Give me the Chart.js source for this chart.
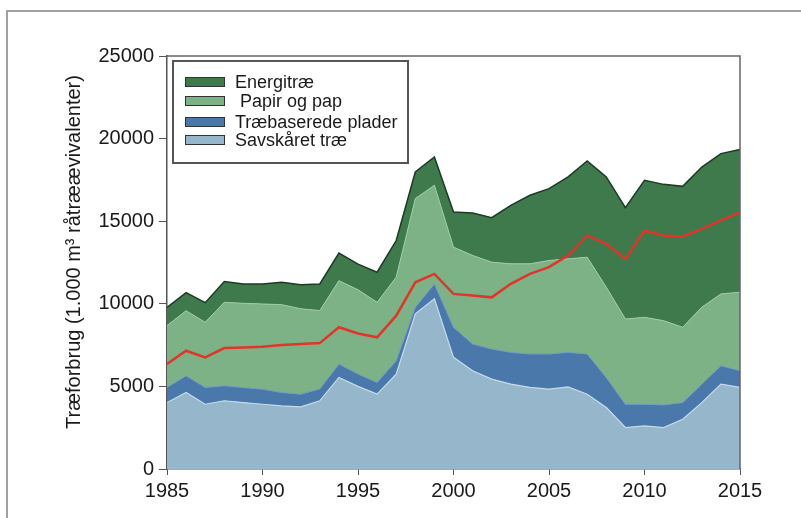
<!DOCTYPE html>
<html>
<head>
<meta charset="utf-8">
<script src="https://cdn.jsdelivr.net/npm/chart.js@4/dist/chart.umd.min.js"></script>
<style>
  html, body { margin: 0; padding: 0; background: #fff; }
  #wrap { position: relative; width: 801px; height: 518px; }
  #frame { position: absolute; left: 6px; top: 10px; right: 0; bottom: 0;
           border-left: 2px solid #a0a0a0; border-top: 2px solid #a0a0a0; }
  canvas { position: absolute; left: 0; top: 0; }
</style>
</head>
<body>
<div id="wrap">
  <div id="frame"></div>
  <canvas id="chart" width="801" height="518"></canvas>
</div>
<script>
// Årstal
const years = [1985, 1986, 1987, 1988, 1989, 1990, 1991, 1992, 1993, 1994,
               1995, 1996, 1997, 1998, 1999, 2000, 2001, 2002, 2003, 2004,
               2005, 2006, 2007, 2008, 2009, 2010, 2011, 2012, 2013, 2014, 2015];

// Serier (stablet, 1.000 m3)
const savskaaret = [4020, 4630, 3920, 4130, 4020, 3920, 3820, 3760, 4130, 5540,
                    5000, 4530, 5740, 9390, 10300, 6760, 5950, 5440, 5140, 4940,
                    4830, 4970, 4530, 3720, 2510, 2610, 2510, 3010, 4020, 5140, 4940];
const plader = [920, 1010, 1020, 910, 910, 910, 810, 770, 720, 810,
                750, 710, 810, 400, 900, 1820, 1620, 1820, 1920, 2020,
                2130, 2090, 2430, 1820, 1410, 1310, 1370, 1010, 1120, 1110, 1010];
const papir = [3740, 3940, 3940, 5050, 5100, 5160, 5320, 5170, 4740, 5050,
               5100, 4850, 5060, 6580, 5970, 4850, 5360, 5260, 5360, 5460,
               5660, 5660, 5860, 5460, 5160, 5260, 5100, 4560, 4650, 4350, 4750];
const energi = [1100, 1100, 1190, 1260, 1170, 1210, 1350, 1450, 1610, 1670,
                1550, 1820, 2220, 1610, 1720, 2120, 2560, 2690, 3540, 4150,
                4350, 4960, 5830, 6680, 6740, 8300, 8250, 8530, 8490, 8490, 8640];
// Rød linje (ikke stablet)
const roedLinje = [6350, 7160, 6750, 7320, 7360, 7400, 7500, 7560, 7620, 8580,
                   8200, 7970, 9280, 11300, 11810, 10600, 10500, 10390, 11210, 11810,
                   12220, 12930, 14140, 13630, 12720, 14440, 14140, 14080, 14540, 15050, 15550];

const yTicks = [0, 5000, 10000, 15000, 20000, 25000];
const xTicks = [1985, 1990, 1995, 2000, 2005, 2010, 2015];

const FONT = '"Liberation Sans", Arial, sans-serif';

function punkter(values) {
    return years.map((y, i) => ({ x: y, y: values[i] }));
}

// Legende inde i plotområdet
const legendItems = [
    { label: "Energitræ", color: "#3e7a4c" },
    { label: " Papir og pap", color: "#7db286" },
    { label: "Træbaserede plader", color: "#4a78aa" },
    { label: "Savskåret træ", color: "#96b6cc" }
];

const boxPlugin = {
    id: "boxPlugin",
    afterDraw(chart) {
        const ctx = chart.ctx;
        const a = chart.chartArea;
        ctx.save();
        // ramme om plotområdet (top og højre)
        ctx.strokeStyle = "#666";
        ctx.lineWidth = 1.5;
        ctx.beginPath();
        ctx.moveTo(a.left, a.top);
        ctx.lineTo(a.right, a.top);
        ctx.lineTo(a.right, a.bottom);
        ctx.stroke();

        // legende
        ctx.fillStyle = "#fff";
        ctx.fillRect(173, 61, 235, 102);
        ctx.strokeStyle = "#555";
        ctx.lineWidth = 2;
        ctx.strokeRect(173, 61, 235, 102);
        const rows = [82, 101, 122, 140];
        ctx.font = "18px " + FONT;
        ctx.textBaseline = "middle";
        legendItems.forEach((item, i) => {
            ctx.fillStyle = item.color;
            ctx.fillRect(185, rows[i] - 5, 40, 10);
            ctx.strokeStyle = "#333";
            ctx.lineWidth = 1;
            ctx.strokeRect(185.5, rows[i] - 4.5, 39, 9);
            ctx.fillStyle = "#1a1a1a";
            ctx.fillText(item.label, 235, rows[i] + 1);
        });

        // y-aksens titel
        ctx.translate(74, 252);
        ctx.rotate(-Math.PI / 2);
        ctx.textAlign = "center";
        ctx.font = "20px " + FONT;
        ctx.fillStyle = "#1a1a1a";
        ctx.fillText("Træforbrug (1.000 m³ råtræævivalenter)", 0, 0);
        ctx.restore();
    }
};

new Chart(document.getElementById("chart"), {
    type: "line",
    data: {
        datasets: [
            {
                label: "Rød linje",
                data: punkter(roedLinje),
                stack: "linje",
                order: -1,
                borderColor: "#e0352b",
                borderWidth: 2.5,
                fill: false,
                pointRadius: 0,
                tension: 0
            },
            {
                label: "Savskåret træ",
                data: punkter(savskaaret),
                stack: "areal",
                backgroundColor: "#96b6cc",
                borderColor: "#c4dae8",
                borderWidth: 1.2,
                fill: "origin",
                pointRadius: 0,
                tension: 0
            },
            {
                label: "Træbaserede plader",
                data: punkter(plader),
                stack: "areal",
                backgroundColor: "#4a78aa",
                borderColor: "#6f9bc4",
                borderWidth: 1,
                fill: "-1",
                pointRadius: 0,
                tension: 0
            },
            {
                label: " Papir og pap",
                data: punkter(papir),
                stack: "areal",
                backgroundColor: "#7db286",
                borderColor: "#9ccaa4",
                borderWidth: 1,
                fill: "-1",
                pointRadius: 0,
                tension: 0
            },
            {
                label: "Energitræ",
                data: punkter(energi),
                stack: "areal",
                backgroundColor: "#3e7a4c",
                borderColor: "#1e3a24",
                borderWidth: 1.5,
                fill: "-1",
                pointRadius: 0,
                tension: 0
            }
        ]
    },
    options: {
        responsive: false,
        animation: false,
        layout: { padding: { left: 0, top: 56, right: 61, bottom: 0 } },
        plugins: {
            legend: { display: false },
            tooltip: { enabled: false }
        },
        scales: {
            x: {
                type: "linear",
                min: 1985,
                max: 2015,
                afterBuildTicks: (scale) => { scale.ticks = xTicks.map(v => ({ value: v })); },
                afterFit: (scale) => { scale.height = 49; },
                grid: { drawOnChartArea: false, tickLength: 6, tickColor: "#555" },
                border: { color: "#555", width: 1.5 },
                ticks: {
                    color: "#1a1a1a",
                    font: { size: 20, family: FONT },
                    padding: 4,
                    maxRotation: 0,
                    callback: (v) => String(v)
                }
            },
            y: {
                stacked: true,
                min: 0,
                max: 25000,
                afterBuildTicks: (scale) => { scale.ticks = yTicks.map(v => ({ value: v })); },
                afterFit: (scale) => { scale.width = 167; },
                grid: { drawOnChartArea: false, tickLength: 8, tickColor: "#555" },
                border: { color: "#555", width: 1.5 },
                ticks: {
                    color: "#1a1a1a",
                    font: { size: 20, family: FONT },
                    padding: 5,
                    callback: (v) => String(v)
                }
            }
        }
    },
    plugins: [boxPlugin]
});
</script>
</body>
</html>
